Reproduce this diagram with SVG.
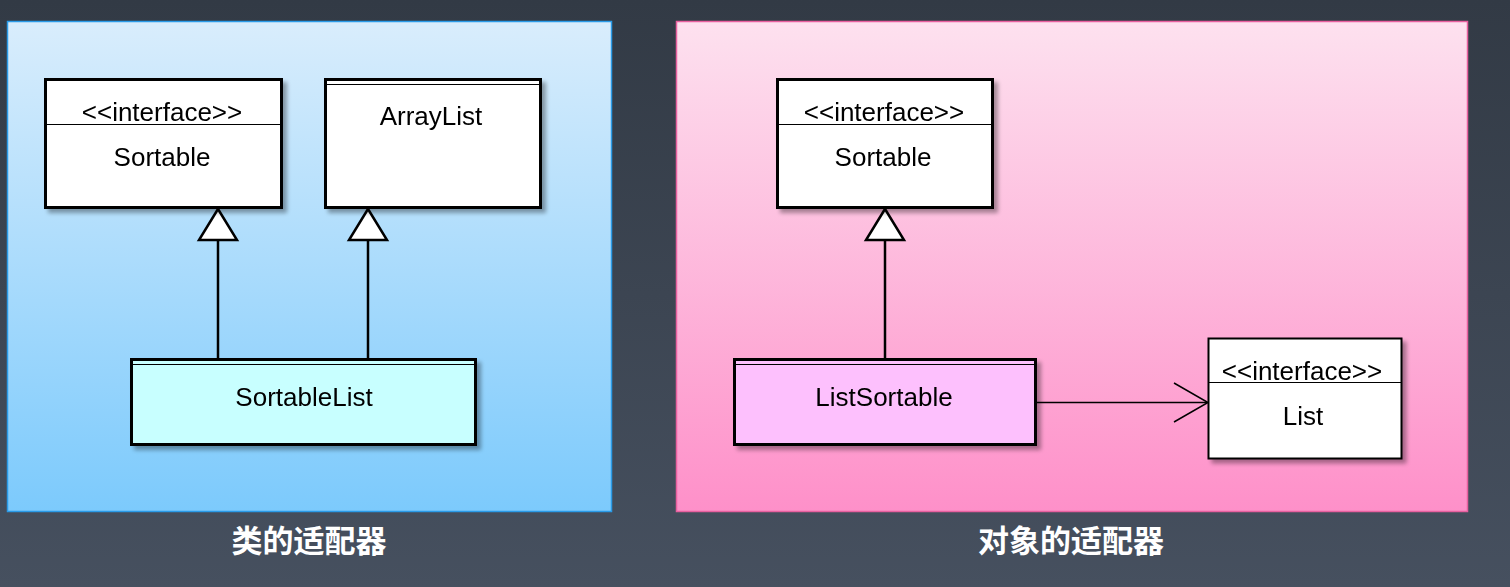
<svg xmlns="http://www.w3.org/2000/svg" width="1510" height="587" viewBox="0 0 1510 587">
<defs>
<linearGradient id="bg" x1="0" y1="0" x2="0" y2="1"><stop offset="0" stop-color="#323a45"/><stop offset="1" stop-color="#46505f"/></linearGradient>
<linearGradient id="blue" x1="0" y1="0" x2="0" y2="1"><stop offset="0" stop-color="#d9edfc"/><stop offset="1" stop-color="#7ccafc"/></linearGradient>
<linearGradient id="pink" x1="0" y1="0" x2="0" y2="1"><stop offset="0" stop-color="#fde1ef"/><stop offset="1" stop-color="#fe90c9"/></linearGradient>
<filter id="sh" x="-10%" y="-10%" width="130%" height="130%"><feGaussianBlur in="SourceAlpha" stdDeviation="2"/><feOffset dx="4" dy="4"/><feComponentTransfer><feFuncA type="linear" slope="0.35"/></feComponentTransfer><feMerge><feMergeNode/><feMergeNode in="SourceGraphic"/></feMerge></filter>
</defs>
<style>
.box{stroke:#000;stroke-width:3}
.thin{stroke:#000;stroke-width:1.2;fill:none}
.t{font-family:"Liberation Sans",Arial,sans-serif;font-size:26px;fill:#000;text-anchor:middle}
.cap{font-family:"Noto Sans CJK SC",sans-serif;font-size:31px;font-weight:bold;fill:#fff;text-anchor:middle}
.edge{stroke:#000;stroke-width:2.5;fill:none}
.tri{stroke:#000;stroke-width:2.5;fill:#fff}
</style>
<rect width="1510" height="587" fill="url(#bg)"/>
<rect x="7.5" y="21.5" width="604" height="490" fill="url(#blue)" stroke="#2a9be8" stroke-width="1.5"/>
<rect x="676.5" y="21.5" width="791" height="490" fill="url(#pink)" stroke="#e8609f" stroke-width="1.5"/>
<text class="cap" x="309" y="552">类的适配器</text>
<text class="cap" x="1071" y="552">对象的适配器</text>

<g id="connectors">
<line class="edge" x1="218" y1="240" x2="218" y2="359"/>
<polygon class="tri" points="218,209 199,240 237,240"/>
<line class="edge" x1="368" y1="240" x2="368" y2="359"/>
<polygon class="tri" points="368,209 349,240 387,240"/>
<line class="edge" x1="885" y1="240" x2="885" y2="359"/>
<polygon class="tri" points="885,209 866,240 904,240"/>
<line x1="1036" y1="402.5" x2="1207" y2="402.5" stroke="#000" stroke-width="1.5"/>
<polyline points="1174,383 1208,402.5 1174,422" fill="none" stroke="#000" stroke-width="1.5"/>
</g>

<g id="sortable-left" filter="url(#sh)">
<rect class="box" x="45.5" y="79.5" width="236" height="128" fill="#fff"/>
<line class="thin" x1="45" y1="124.5" x2="281" y2="124.5"/>
<text class="t" x="162" y="121">&lt;&lt;interface&gt;&gt;</text>
<text class="t" x="162" y="166">Sortable</text>
</g>
<g id="arraylist" filter="url(#sh)">
<rect class="box" x="325.5" y="79.5" width="215" height="128" fill="#fff"/>
<line class="thin" x1="325" y1="84.5" x2="540" y2="84.5"/>
<text class="t" x="431" y="125">ArrayList</text>
</g>
<g id="sortablelist" filter="url(#sh)">
<rect class="box" x="131.5" y="359.5" width="344" height="85" fill="#c8ffff"/>
<line class="thin" x1="131" y1="364.5" x2="475" y2="364.5"/>
<text class="t" x="304" y="406">SortableList</text>
</g>
<g id="sortable-right" filter="url(#sh)">
<rect class="box" x="777.5" y="79.5" width="215" height="128" fill="#fff"/>
<line class="thin" x1="777" y1="124.5" x2="992" y2="124.5"/>
<text class="t" x="884" y="121">&lt;&lt;interface&gt;&gt;</text>
<text class="t" x="883" y="166">Sortable</text>
</g>
<g id="listsortable" filter="url(#sh)">
<rect class="box" x="734.5" y="359.5" width="301" height="85" fill="#fdc0fd"/>
<line class="thin" x1="734" y1="364.5" x2="1035" y2="364.5"/>
<text class="t" x="884" y="406">ListSortable</text>
</g>
<g id="list" filter="url(#sh)">
<rect x="1208.5" y="338.5" width="193" height="120" fill="#fff" stroke="#000" stroke-width="2"/>
<line class="thin" x1="1208" y1="382.5" x2="1401" y2="382.5"/>
<text class="t" x="1302" y="380">&lt;&lt;interface&gt;&gt;</text>
<text class="t" x="1303" y="425">List</text>
</g>
</svg>
